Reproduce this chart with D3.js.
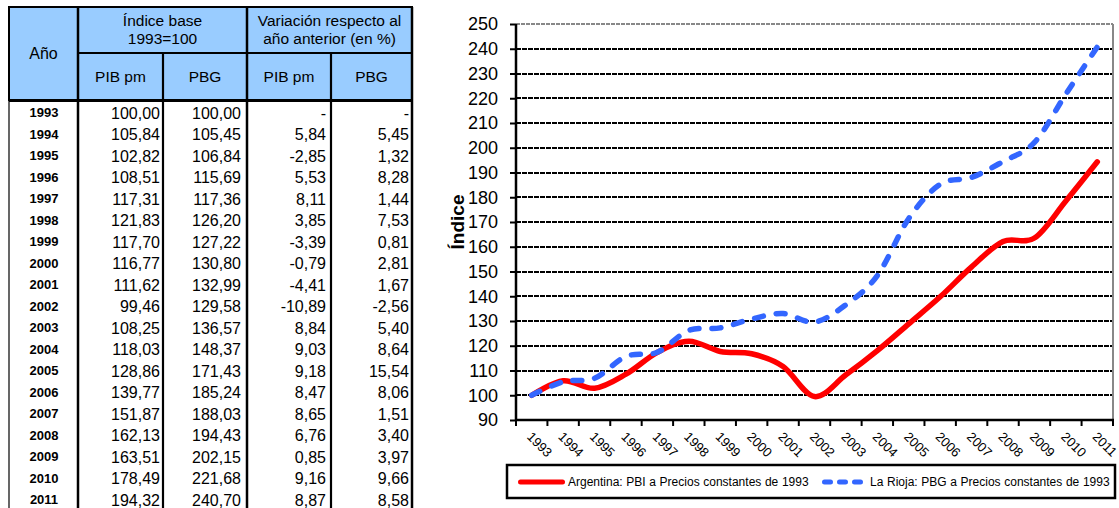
<!DOCTYPE html>
<html>
<head>
<meta charset="utf-8">
<script src="https://cdn.jsdelivr.net/npm/d3@7"></script>
<style>
  body { margin: 0; background: #fff; }
  text { font-family: "Liberation Sans", Arial, sans-serif; }
</style>
</head>
<body>
<svg id="chart" width="1119" height="508"></svg>
<script>
const YEARS = [1993,1994,1995,1996,1997,1998,1999,2000,2001,2002,2003,2004,2005,2006,2007,2008,2009,2010,2011]
const PIB = [100.00,105.84,102.82,108.51,117.31,121.83,117.70,116.77,111.62,99.46,108.25,118.03,128.86,139.77,151.87,162.13,163.51,178.49,194.32]
const PBG = [100.00,105.45,106.84,115.69,117.36,126.20,127.22,130.80,132.99,129.58,136.57,148.37,171.43,185.24,188.03,194.43,202.15,221.68,240.70]
const VAR_PIB = [null,5.84,-2.85,5.53,8.11,3.85,-3.39,-0.79,-4.41,-10.89,8.84,9.03,9.18,8.47,8.65,6.76,0.85,9.16,8.87]
const VAR_PBG = [null,5.45,1.32,8.28,1.44,7.53,0.81,2.81,1.67,-2.56,5.40,8.64,15.54,8.06,1.51,3.40,3.97,9.66,8.58]
const Y_TICKS = d3.range(90, 251, 10)
const SERIES_NAMES = ["Argentina: PBI a Precios constantes de 1993", "La Rioja: PBG a Precios constantes de 1993"]
const HEAD_TOP = ["Índice base", "1993=100"]
const HEAD_VAR = ["Variación respecto al", "año anterior (en %)"]
const SUB_HEADS = ["PIB pm", "PBG", "PIB pm", "PBG"]

const svg = d3.select("#chart")
const es = d3.formatLocale({decimal: ",", thousands: ".", grouping: [3], currency: ["", ""], minus: "-"})
const f2 = es.format(".2f")

// ---------- table ----------
let colX = [9, 78, 163, 247, 331, 412]
let rowY = d3.scaleBand().domain(YEARS).range([102, 102 + 19 * 21.5])
let tbl = svg.append("g").attr("id", "table")

//header
tbl.append("rect").attr("x", colX[0]).attr("y", 7).attr("width", colX[5] - colX[0]).attr("height", 93)
  .attr("fill", "#99ccff").attr("stroke", "#000").attr("stroke-width", 2)
tbl.append("line").attr("x1", colX[1]).attr("x2", colX[5]).attr("y1", 53).attr("y2", 53).attr("stroke", "#000").attr("stroke-width", 2)
tbl.append("line").attr("x1", colX[0]).attr("x2", colX[5]).attr("y1", 100.5).attr("y2", 100.5).attr("stroke", "#000").attr("stroke-width", 3)

let vlines = [
  {x: colX[0], y1: 7, w: 1.2},
  {x: colX[1], y1: 7, w: 2.5},
  {x: colX[2], y1: 53, w: 2.2},
  {x: colX[3], y1: 7, w: 2.5},
  {x: colX[4], y1: 53, w: 2.2},
  {x: colX[5], y1: 7, w: 2.5}
]
tbl.selectAll("line.v").data(vlines).enter().append("line").attr("class", "v")
  .attr("x1", d => d.x).attr("x2", d => d.x).attr("y1", d => d.y1).attr("y2", 508)
  .attr("stroke", "#000").attr("stroke-width", d => d.w)

tbl.append("text").attr("x", (colX[0] + colX[1]) / 2).attr("y", 53).attr("dy", "0.35em")
  .attr("text-anchor", "middle").attr("font-size", 16).text("Año")
tbl.selectAll("text.ht").data(HEAD_TOP).enter().append("text").attr("class", "ht")
  .attr("x", (colX[1] + colX[3]) / 2).attr("y", (d, i) => 21 + i * 18).attr("dy", "0.35em")
  .attr("text-anchor", "middle").attr("font-size", 15.5).text(d => d)
tbl.selectAll("text.hv").data(HEAD_VAR).enter().append("text").attr("class", "hv")
  .attr("x", (colX[3] + colX[5]) / 2).attr("y", (d, i) => 21 + i * 18).attr("dy", "0.35em")
  .attr("text-anchor", "middle").attr("font-size", 15.5).text(d => d)
tbl.selectAll("text.sh").data(SUB_HEADS).enter().append("text").attr("class", "sh")
  .attr("x", (d, i) => (colX[i + 1] + colX[i + 2]) / 2).attr("y", 77).attr("dy", "0.35em")
  .attr("text-anchor", "middle").attr("font-size", 15.5).text(d => d)

//rows
let rows = YEARS.map((yr, i) => ({yr, cells: [f2(PIB[i]), f2(PBG[i]),
  VAR_PIB[i] === null ? "-" : f2(VAR_PIB[i]), VAR_PBG[i] === null ? "-" : f2(VAR_PBG[i])]}))
let pad = [3, 6, 5, 3]
let gRow = tbl.selectAll("g.row").data(rows).enter().append("g").attr("class", "row")
  .attr("transform", d => `translate(0,${rowY(d.yr) + rowY.bandwidth() / 2})`)
gRow.append("text").attr("x", 44).attr("dy", "0.36em").attr("text-anchor", "middle")
  .attr("font-size", 13).attr("font-weight", "bold").text(d => d.yr)
gRow.selectAll("text.c").data(d => d.cells).enter().append("text").attr("class", "c")
  .attr("x", (d, i) => colX[i + 2] - pad[i]).attr("dy", "0.36em").attr("text-anchor", "end")
  .attr("font-size", 16).text(d => d)

// ---------- chart ----------
let x = d3.scaleBand().domain(YEARS).range([516, 1113])
let y = d3.scaleLinear().domain([90, 250]).range([420, 24])
let cx = d => x(d) + x.bandwidth() / 2
let plot = svg.append("g").attr("id", "plot")

//grid
plot.selectAll("line.grid").data(Y_TICKS.filter(t => t > 90 && t < 250)).enter().append("line").attr("class", "grid")
  .attr("x1", x.range()[0]).attr("x2", x.range()[1]).attr("y1", d => Math.round(y(d))).attr("y2", d => Math.round(y(d)))
  .attr("stroke", "#000").attr("stroke-width", 2.2).attr("stroke-dasharray", "5,1")
plot.append("line").attr("x1", x.range()[0]).attr("x2", x.range()[1]).attr("y1", y(250)).attr("y2", y(250))
  .attr("stroke", "#888").attr("stroke-width", 2).attr("stroke-dasharray", "4,1")
plot.append("line").attr("x1", x.range()[1]).attr("x2", x.range()[1]).attr("y1", y(250)).attr("y2", y(90))
  .attr("stroke", "#888").attr("stroke-width", 2)

//y axis
let yAxis = plot.append("g").attr("transform", `translate(${x.range()[0]},0)`)
  .call(d3.axisLeft(y).tickValues(Y_TICKS).tickSize(6).tickPadding(12).tickFormat(d3.format("d")))
yAxis.select(".domain").remove()
yAxis.selectAll(".tick line").attr("stroke", "#000").attr("stroke-width", 2)
yAxis.selectAll(".tick text").attr("font-size", 18).attr("fill", "#000").attr("font-family", null)
plot.append("line").attr("x1", x.range()[0]).attr("x2", x.range()[0]).attr("y1", y(250)).attr("y2", y(90) + 1)
  .attr("stroke", "#000").attr("stroke-width", 2.5)

svg.append("text").attr("transform", "translate(464,222) rotate(-90)").attr("text-anchor", "middle")
  .attr("font-size", 19).attr("font-weight", "bold").text("Índice")

//x axis
plot.append("line").attr("x1", x.range()[0] - 1).attr("x2", x.range()[1] + 1).attr("y1", y(90)).attr("y2", y(90))
  .attr("stroke", "#000").attr("stroke-width", 2.5)
let bounds = YEARS.map(d => x(d)).concat([x.range()[1]])
plot.selectAll("line.xt").data(bounds).enter().append("line").attr("class", "xt")
  .attr("x1", d => d).attr("x2", d => d).attr("y1", y(90)).attr("y2", y(90) + 6)
  .attr("stroke", "#000").attr("stroke-width", 2)
plot.selectAll("text.xl").data(YEARS).enter().append("text").attr("class", "xl")
  .attr("transform", d => `translate(${cx(d) + 1},431) rotate(45)`).attr("dy", "0.71em")
  .attr("font-size", 13).text(d => d)

//lines
let line = d3.line().x((d, i) => cx(YEARS[i])).y(d => y(d)).curve(d3.curveCatmullRom.alpha(0))
plot.append("path").datum(PIB).attr("d", line).attr("fill", "none")
  .attr("stroke", "#ff0000").attr("stroke-width", 5.5).attr("stroke-linecap", "round").attr("stroke-linejoin", "round")
plot.append("path").datum(PBG).attr("d", line).attr("fill", "none")
  .attr("stroke", "#3366ff").attr("stroke-width", 5.5).attr("stroke-linecap", "round")
  .attr("stroke-dasharray", "9,13")

//legend
let leg = svg.append("g").attr("id", "legend")
leg.append("rect").attr("x", 507).attr("y", 465).attr("width", 608).attr("height", 33)
  .attr("fill", "#fff").attr("stroke", "#000").attr("stroke-width", 2.5)
let legItems = [
  {name: SERIES_NAMES[0], x: 518, color: "#ff0000", dash: null},
  {name: SERIES_NAMES[1], x: 822, color: "#3366ff", dash: "6,9"}
]
let li = leg.selectAll("g.item").data(legItems).enter().append("g").attr("class", "item")
  .attr("transform", d => `translate(${d.x},482)`)
li.append("line").attr("x1", 2.5).attr("x2", d => d.dash ? 38.5 : 44.5).attr("y1", 0).attr("y2", 0)
  .attr("stroke", d => d.color).attr("stroke-width", 5).attr("stroke-linecap", "round")
  .attr("stroke-dasharray", d => d.dash)
li.append("text").attr("x", d => d.dash ? 48 : 50).attr("dy", "0.36em").attr("font-size", 12)
  .attr("word-spacing", 0.3).text(d => d.name)
</script>
</body>
</html>
